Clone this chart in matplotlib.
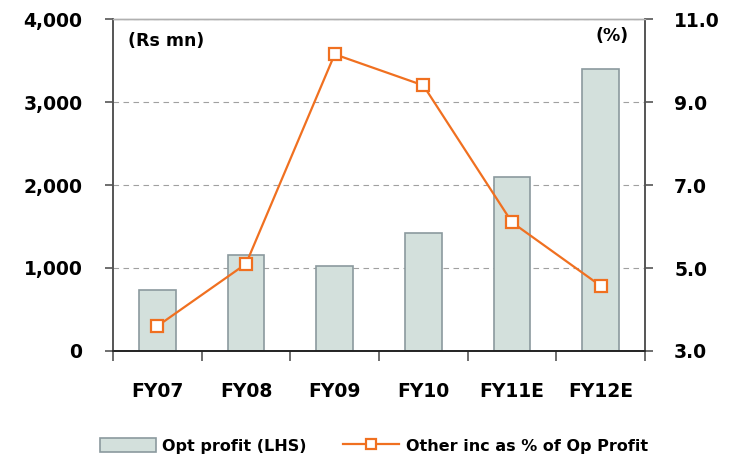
import matplotlib
matplotlib.use("Agg")
import matplotlib.pyplot as plt
from matplotlib.ticker import FuncFormatter
import numpy as np

categories = ["FY07", "FY08", "FY09", "FY10", "FY11E", "FY12E"]
opt_profit = [730, 1160, 1020, 1420, 2100, 3400]
other_inc_pct = [3.6, 5.1, 10.15, 9.4, 6.1, 4.57]
left_ticks = [0, 1000, 2000, 3000, 4000]
right_ticks = [3.0, 5.0, 7.0, 9.0, 11.0]

plt.rcParams['font.family'] = ['DejaVu Sans']
plt.rcParams['font.weight'] = 'bold'

fig = plt.figure(figsize=(7.37, 4.55), dpi=100)
ax = fig.add_axes([113/737, 1 - 351/455, (645-113)/737, (351-19)/455])
ax2 = ax.twinx()

x = np.arange(len(categories))
bar_color = "#d3e0dc"
edge_color = "#8b9a9e"
line_color = "#f07020"

ax.bar(x, opt_profit, width=0.41, color=bar_color, edgecolor=edge_color, linewidth=1.2, zorder=2,
       label="Opt profit (LHS)")
ax.set_xlim(-0.5, len(categories) - 0.5)
ax.set_ylim(0, 4000)
ax.set_yticks(left_ticks)
ax.yaxis.set_major_formatter(FuncFormatter(lambda v, p: f"{int(v):,}"))
ax.yaxis.grid(True, linestyle=(0, (5, 4)), color="#a0a0a0", linewidth=0.8, zorder=0)
ax.set_axisbelow(True)

ax.set_xticks(x)
ax.set_xticklabels(categories, fontsize=13.5, fontweight='bold')
ax.set_xticks(np.arange(-0.5, len(categories)), minor=True)
ax.tick_params(axis='x', which='major', length=0, pad=22)
ax.tick_params(axis='x', which='minor', length=7, direction='out', color='#555555', width=1.2)
ax.tick_params(axis='y', length=6, direction='out', color='#555555', width=1.2, labelsize=13.5, pad=16)

for lbl in ax.get_yticklabels():
    lbl.set_fontweight('bold')

ax2.plot(x, other_inc_pct, color=line_color, linewidth=1.6, marker='s', markersize=9,
         markerfacecolor='white', markeredgecolor=line_color, markeredgewidth=1.6, zorder=3,
         label="Other inc as % of Op Profit")
ax2.set_ylim(3, 11)
ax2.set_yticks(right_ticks)
ax2.yaxis.set_major_formatter(FuncFormatter(lambda v, p: f"{v:.1f}"))
ax2.tick_params(axis='y', length=6, direction='out', color='#555555', width=1.2, labelsize=13.5, pad=15)
for lbl in ax2.get_yticklabels():
    lbl.set_fontweight('bold')

for a in (ax, ax2):
    a.spines['top'].set_color('#b0b0b0')
    a.spines['top'].set_linewidth(1.0)
    a.spines['left'].set_color('#555555')
    a.spines['left'].set_linewidth(1.2)
    a.spines['right'].set_color('#555555')
    a.spines['right'].set_linewidth(1.2)
    a.spines['bottom'].set_color('#222222')
    a.spines['bottom'].set_linewidth(1.2)

ax.text(0.028, 0.935, "(Rs mn)", transform=ax.transAxes, fontsize=12.5, fontweight='bold',
        ha='left', va='center')
ax.text(0.938, 0.95, "(%)", transform=ax.transAxes, fontsize=12.5, fontweight='bold',
        ha='center', va='center')

h1, l1 = ax.get_legend_handles_labels()
h2, l2 = ax2.get_legend_handles_labels()
fig.legend(h1 + h2, l1 + l2, loc='center', bbox_to_anchor=(0.507, 1 - 446/455), ncol=2,
           frameon=False, prop={'size': 11.5, 'weight': 'bold'}, handlelength=3.5,
           handleheight=0.9, columnspacing=2.3, handletextpad=0.4, markerscale=0.85)

fig.savefig("out.png", dpi=100)
